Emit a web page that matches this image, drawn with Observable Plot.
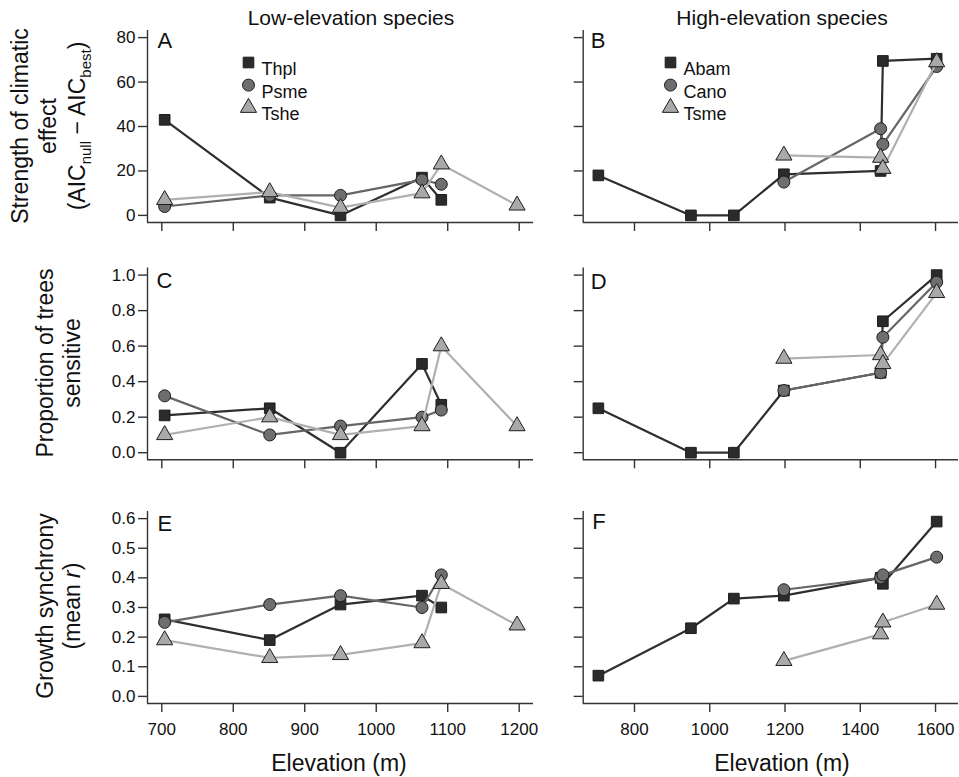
<!DOCTYPE html>
<html>
<head>
<meta charset="utf-8">
<script src="https://cdn.jsdelivr.net/npm/d3@7"></script>
<script src="https://cdn.jsdelivr.net/npm/@observablehq/plot@0.6"></script>
<style>
  body { margin: 0; background: #fff; }
  #chart { position: relative; width: 959px; height: 777px; overflow: hidden; background: #fff; }
  #chart svg { position: absolute; left: 0; top: 0; background: transparent !important; max-width: none !important; }
</style>
</head>
<body>
<div id="chart"></div>
<script>
// ---------------- data ----------------
const lowSites  = [704, 851, 950, 1064, 1091, 1197];
const highSites = [704, 950, 1064, 1197, 1454, 1460, 1603];

const lowSpecies  = ["Thpl", "Psme", "Tshe"];
const highSpecies = ["Abam", "Cano", "Tsme"];

// Panel A: strength of climatic effect (low-elevation species)
const strengthThpl = [43, 8, 0, 17, 7, null];
const strengthPsme = [4, 9, 9, 16, 14, null];
const strengthTshe = [7, 10.5, 3.5, 10, 23, 4.5];
// Panel B: strength (high-elevation species)
const strengthAbam = [18, 0, 0, 18.5, 20, 69.5, 70.5];
const strengthCano = [null, null, null, 15, 39, 32, 67];
const strengthTsme = [null, null, null, 27, 26, 21, 69];
// Panel C: proportion of trees sensitive (low)
const propThpl = [0.21, 0.25, 0.00, 0.50, 0.27, null];
const propPsme = [0.32, 0.10, 0.15, 0.20, 0.24, null];
const propTshe = [0.10, 0.20, 0.10, 0.15, 0.60, 0.15];
// Panel D: proportion (high)
const propAbam = [0.25, 0.00, 0.00, 0.35, 0.45, 0.74, 1.00];
const propCano = [null, null, null, 0.35, 0.45, 0.65, 0.96];
const propTsme = [null, null, null, 0.53, 0.55, 0.50, 0.90];
// Panel E: growth synchrony (low)
const syncThpl = [0.26, 0.19, 0.31, 0.34, 0.30, null];
const syncPsme = [0.25, 0.31, 0.34, 0.30, 0.41, null];
const syncTshe = [0.19, 0.13, 0.14, 0.18, 0.38, 0.24];
// Panel F: growth synchrony (high)
const syncAbam = [0.07, 0.23, 0.33, 0.34, 0.40, 0.38, 0.59];
const syncCano = [null, null, null, 0.36, 0.40, 0.41, 0.47];
const syncTsme = [null, null, null, 0.12, 0.21, 0.25, 0.31];

const lowXTicks  = [700, 800, 900, 1000, 1100, 1200];
const highXTicks = [800, 1000, 1200, 1400, 1600];
const strengthTicks = [0, 20, 40, 60, 80];
const propTicks = [0, 0.2, 0.4, 0.6, 0.8, 1.0];
const syncTicks = [0, 0.1, 0.2, 0.3, 0.4, 0.5, 0.6];

const columnTitles = ["Low-elevation species", "High-elevation species"];
const xTitle = "Elevation (m)";
const panelLetters = ["A", "B", "C", "D", "E", "F"];

// ---------------- styling ----------------
const W = 959, H = 777;
const FONT = "'Liberation Sans', Arial, Helvetica, sans-serif";
const symbols = ["square", "circle", "triangle"];
const lineColors = ["#2e2e2e", "#666666", "#b0b0b0"];
const fillColors = ["#2b2b2b", "#6e6e6e", "#a9a9a9"];
const AXIS = "#333";

const cols = {
  low:  {left: 147,   right: 533, domain: [680, 1220],    ticks: lowXTicks,  sites: lowSites},
  high: {left: 582.7, right: 958, domain: [663.7, 1661],  ticks: highXTicks, sites: highSites}
};
const rows = {
  strength: {top: 30,    bottom: 222,   domain: [-3.2, 83.2],    ticks: strengthTicks, fmt: d3.format("d")},
  prop:     {top: 267.5, bottom: 459.3, domain: [-0.04, 1.04],   ticks: propTicks,     fmt: d3.format(".1f")},
  sync:     {top: 511,   bottom: 703,   domain: [-0.024, 0.624], ticks: syncTicks,     fmt: d3.format(".1f")}
};

const container = document.getElementById("chart");

function panel(c, r, seriesList, names, letter, letterOff, xLabels, yLabels, legend) {
  const marks = [];
  marks.push(Plot.ruleX([c.domain[0]], {stroke: AXIS, strokeWidth: 1.4}));
  marks.push(Plot.ruleY([r.domain[0]], {stroke: AXIS, strokeWidth: 1.4}));
  marks.push(Plot.axisX({
    ticks: c.ticks, tickSize: 9, tickPadding: 10, label: null,
    tickFormat: xLabels ? (d => String(d)) : (() => ""),
    stroke: AXIS, strokeWidth: 1.4, fontSize: 17, fill: "#111"
  }));
  marks.push(Plot.axisY({
    ticks: r.ticks, tickSize: 9, tickPadding: 3, label: null,
    tickFormat: yLabels ? r.fmt : (() => ""),
    stroke: AXIS, strokeWidth: 1.4, fontSize: 17, fill: "#111"
  }));
  seriesList.forEach((vals, i) => {
    const data = c.sites.map((x, k) => ({x, y: vals[k]})).filter(d => d.y != null);
    marks.push(Plot.line(data, {x: "x", y: "y", stroke: lineColors[i], strokeWidth: 2.2}));
    marks.push(Plot.dot(data, {x: "x", y: "y", symbol: symbols[i], r: 6,
      fill: fillColors[i], stroke: "#1e1e1e", strokeWidth: 1}));
  });
  marks.push(Plot.text([letter], {frameAnchor: "top-left", dx: letterOff[0], dy: letterOff[1],
    text: d => d, textAnchor: "start", lineAnchor: "top", fontSize: 22, fill: "#111"}));
  if (legend) {
    names.forEach((n, i) => {
      marks.push(Plot.dot([n], {frameAnchor: "top-left", dx: legend[0], dy: 32 + i * 22.6,
        symbol: symbols[i], r: 6, fill: fillColors[i], stroke: "#1e1e1e", strokeWidth: 1}));
      marks.push(Plot.text([n], {frameAnchor: "top-left", dx: legend[0] + 13, dy: 32 + i * 22.6,
        text: d => d, textAnchor: "start", fontSize: 18, fill: "#111"}));
    });
  }
  const svg = Plot.plot({
    width: W, height: H,
    marginLeft: c.left, marginRight: W - c.right,
    marginTop: r.top, marginBottom: H - r.bottom,
    x: {domain: c.domain},
    y: {domain: r.domain},
    style: {fontFamily: FONT, fontSize: "17px", background: "transparent", overflow: "visible"},
    marks
  });
  svg.style.position = "absolute";
  svg.style.left = "0px";
  svg.style.top = "0px";
  container.appendChild(svg);
}

panel(cols.low,  rows.strength, [strengthThpl, strengthPsme, strengthTshe], lowSpecies,  panelLetters[0], [10, 2], false, true,  [101]);
panel(cols.high, rows.strength, [strengthAbam, strengthCano, strengthTsme], highSpecies, panelLetters[1], [7.5, 2], false, false, [87.3]);
panel(cols.low,  rows.prop,     [propThpl, propPsme, propTshe],             lowSpecies,  panelLetters[2], [9, 4], false, true,  null);
panel(cols.high, rows.prop,     [propAbam, propCano, propTsme],             highSpecies, panelLetters[3], [7.5, 5], false, false, null);
panel(cols.low,  rows.sync,     [syncThpl, syncPsme, syncTshe],             lowSpecies,  panelLetters[4], [10, 4], true,  true,  null);
panel(cols.high, rows.sync,     [syncAbam, syncCano, syncTsme],             highSpecies, panelLetters[5], [9, 2], true,  false, null);

// ---------------- overlay text ----------------
const ov = d3.create("svg").attr("width", W).attr("height", H)
  .attr("font-family", FONT).attr("fill", "#111");
ov.style("position", "absolute").style("left", "0px").style("top", "0px");

ov.append("text").attr("x", 351).attr("y", 25).attr("text-anchor", "middle").attr("font-size", 21).text(columnTitles[0]);
ov.append("text").attr("x", 782).attr("y", 25).attr("text-anchor", "middle").attr("font-size", 21).text(columnTitles[1]);
ov.append("text").attr("x", 339).attr("y", 771).attr("text-anchor", "middle").attr("font-size", 23).text(xTitle);
ov.append("text").attr("x", 782).attr("y", 771).attr("text-anchor", "middle").attr("font-size", 23).text(xTitle);

function yLine(x, cy) {
  return ov.append("text").attr("transform", `translate(${x},${cy}) rotate(-90)`)
    .attr("text-anchor", "middle").attr("dy", "0.35em").attr("font-size", 23);
}
yLine(20, 126).text("Strength of climatic");
yLine(48, 126).text("effect");
const aic = yLine(77, 126);
aic.append("tspan").text("(AIC");
aic.append("tspan").attr("font-size", 15).attr("dy", 6).text("null");
aic.append("tspan").attr("dy", -6).text(" \u2212 AIC");
aic.append("tspan").attr("font-size", 15).attr("dy", 6).text("best");
aic.append("tspan").attr("dy", -6).text(")");

yLine(45, 363).text("Proportion of trees");
yLine(72, 363).text("sensitive");

yLine(45, 606).text("Growth synchrony");
const mr = yLine(72, 606);
mr.append("tspan").text("(mean ");
mr.append("tspan").attr("font-style", "italic").text("r");
mr.append("tspan").text(")");

container.appendChild(ov.node());
</script>
</body>
</html>
